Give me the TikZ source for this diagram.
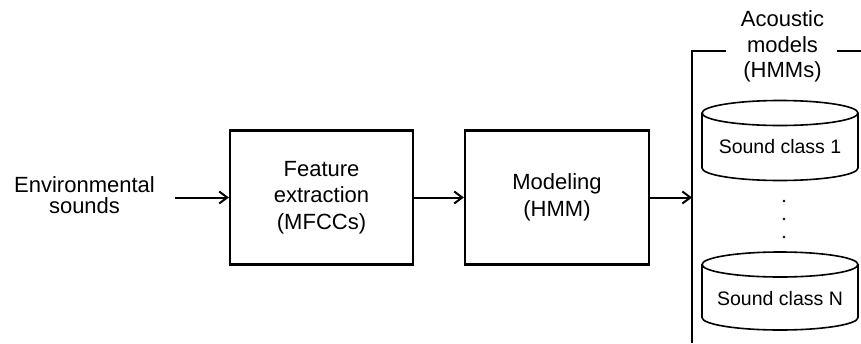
\documentclass[tikz,border=0pt]{standalone}
\usepackage{fontspec}
\setmainfont{Liberation Sans}
\usetikzlibrary{arrows.meta}
\begin{document}
\begin{tikzpicture}[x=1pt,y=-1pt,
  blk/.style={draw,line width=2.2pt,minimum height=134pt,inner sep=0pt,align=center,font=\fontsize{22}{26.5}\selectfont},
  conn/.style={line width=2pt,-{Straight Barb[length=8pt,width=12pt,line width=2pt]}},
  cyl/.style={line width=1.6pt},
  brk/.style={line width=1.6pt},
  cyltext/.style={inner sep=0pt,font=\fontsize{19.5}{23}\selectfont},
]
\useasboundingbox (0,0) rectangle (861,343);

% input label
\node[inner sep=0pt,align=center,font=\fontsize{22}{21.5}\selectfont] (env) at (84.5,195) {Environmental\\sounds};
\coordinate (envend) at (175,197.5);

% blocks
\node[blk,minimum width=183pt] (fe) at (321.5,197.5) {Feature\\extraction\\(MFCCs)};
\node[blk,minimum width=184pt] (mod) at (557,197.5) {Modeling\\(HMM)};

% bracket
\coordinate (bus) at (692,197.5);
\coordinate (bustop) at (692,51);
\coordinate (busbot) at (692,343);
\coordinate (gapl) at (726,51);
\coordinate (gapr) at (837,51);
\coordinate (edge) at (861,51);
\node[inner sep=0pt,align=center,font=\fontsize{22}{25.5}\selectfont] (acm) at (782.5,46.8) {Acoustic\\models\\(HMMs)};
\draw[brk] (busbot) -- (bustop) -- (gapl);
\draw[brk] (gapr) -- (edge);

% arrows
\draw[conn] (envend) -- (fe.west);
\draw[conn] (fe.east) -- (mod.west);
\draw[conn] (mod.east) -- (bus);

% cylinder 1
\draw[cyl] (780,113) ellipse [x radius=78pt, y radius=12.5pt];
\draw[cyl] (702,113) -- (702,168) arc[start angle=180, end angle=360, x radius=78pt, y radius=12.5pt] -- (858,113);
\node[cyltext] (c1) at (780,147) {Sound class 1};

% dots
\fill (784,201) circle[radius=1.4pt];
\fill (784,219) circle[radius=1.4pt];
\fill (784,237) circle[radius=1.4pt];

% cylinder N
\draw[cyl] (780,264.5) ellipse [x radius=78pt, y radius=12.5pt];
\draw[cyl] (702,264.5) -- (702,317.5) arc[start angle=180, end angle=360, x radius=78pt, y radius=12.5pt] -- (858,264.5);
\node[cyltext] (cN) at (780,298.3) {Sound class N};
\end{tikzpicture}
\end{document}
